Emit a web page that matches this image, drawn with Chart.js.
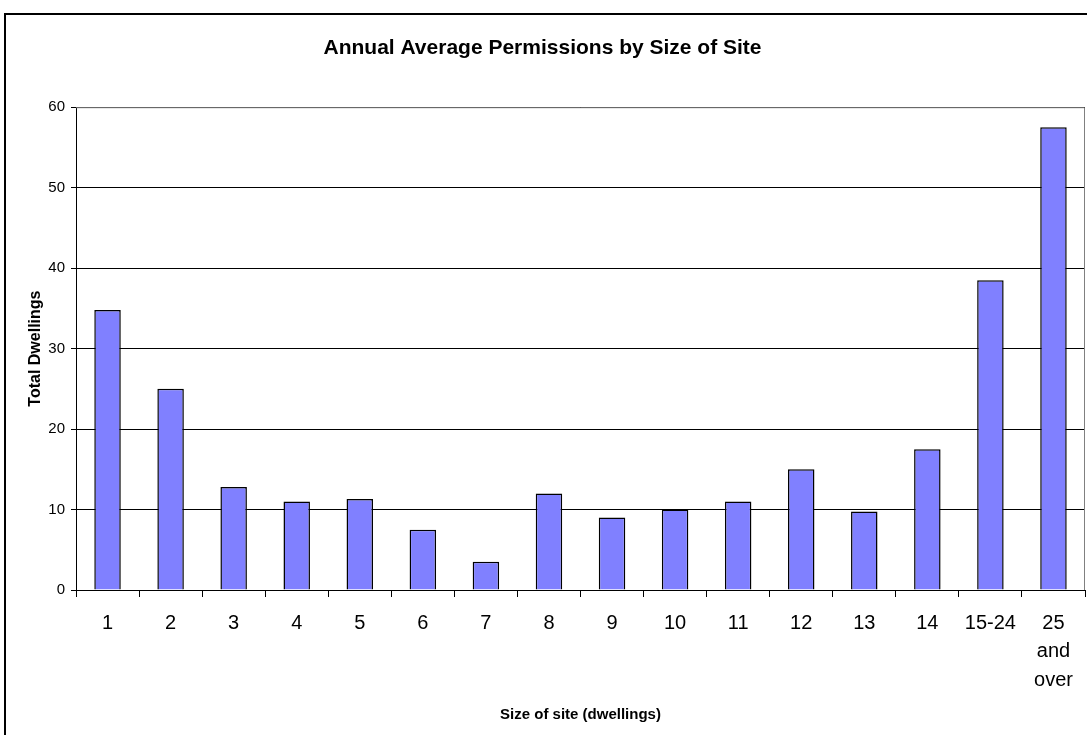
<!DOCTYPE html>
<html>
<head>
<meta charset="utf-8">
<title>Annual Average Permissions by Size of Site</title>
<script src="https://cdn.jsdelivr.net/npm/chart.js@4/dist/chart.umd.min.js"></script>
<style>
  html, body { margin: 0; padding: 0; background: #fff; }
  #wrap { width: 1087px; height: 735px; position: relative; }
</style>
</head>
<body>
<div id="wrap"><canvas id="permChart" width="1087" height="735"></canvas></div>
<script>
// Kategorier (størrelse af grund) og værdier
const siteSizes = ['1', '2', '3', '4', '5', '6', '7', '8', '9', '10', '11', '12', '13', '14', '15-24', ['25', 'and', 'over']];
const totalDwellings = [34.8, 25, 12.8, 11, 11.3, 7.5, 3.5, 12, 9, 10, 11, 15, 9.75, 17.5, 38.5, 57.5];
const yTicks = [0, 10, 20, 30, 40, 50, 60];

const chartTitle = 'Annual Average Permissions by Size of Site';
const xTitle = 'Size of site (dwellings)';
const yTitle = 'Total Dwellings';

const FONT = 'Arial, "Liberation Sans", sans-serif';

// Ramme om hele diagrammet og grå kant om plotområdet
const framePlugin = {
  id: 'frame',
  afterDraw(chart) {
    const { ctx, chartArea: a } = chart;
    ctx.save();
    ctx.strokeStyle = '#808080';
    ctx.lineWidth = 1;
    ctx.beginPath();
    ctx.moveTo(a.left, a.top + 0.5);
    ctx.lineTo(a.right - 0.5, a.top + 0.5);
    ctx.lineTo(a.right - 0.5, a.bottom);
    ctx.stroke();
    ctx.strokeStyle = '#000';
    ctx.lineWidth = 2;
    ctx.strokeRect(5, 14, 1200, 900);
    ctx.restore();
  }
};

const ctx = document.getElementById('permChart').getContext('2d');
new Chart(ctx, {
  type: 'bar',
  data: {
    labels: siteSizes,
    datasets: [{
      data: totalDwellings,
      backgroundColor: '#8080FF',
      borderColor: '#000',
      borderWidth: 1.5,
      categoryPercentage: 1,
      barPercentage: 0.42
    }]
  },
  options: {
    responsive: false,
    animation: false,
    layout: { padding: { top: 0, right: 2, bottom: 0, left: 0 } },
    plugins: {
      legend: { display: false },
      tooltip: { enabled: false },
      title: {
        display: true,
        text: chartTitle,
        color: '#000',
        font: { family: FONT, size: 21, weight: 'bold' },
        padding: { top: 36, bottom: 46 }
      }
    },
    scales: {
      x: {
        grid: { drawOnChartArea: false, drawTicks: true, tickLength: 7, color: '#000', offset: true },
        border: { color: '#000' },
        ticks: { color: '#000', font: { family: FONT, size: 20, lineHeight: 1.43 }, padding: 12, maxRotation: 0, autoSkip: false },
        title: {
          display: true,
          text: xTitle,
          color: '#000',
          font: { family: FONT, size: 15, weight: 'bold' },
          padding: { top: 0, bottom: 11 }
        },
        afterFit(scale) { scale.height = 145; }
      },
      y: {
        min: 0,
        max: 60,
        afterBuildTicks(scale) { scale.ticks = yTicks.map(v => ({ value: v })); },
        grid: { color: '#000', tickLength: 5 },
        border: { color: '#000' },
        ticks: { color: '#000', font: { family: FONT, size: 15 }, padding: 6 },
        title: {
          display: true,
          text: yTitle,
          color: '#000',
          font: { family: FONT, size: 16, weight: 'bold' },
          padding: { top: 26, bottom: 0 }
        },
        afterFit(scale) { scale.width = 76; }
      }
    }
  },
  plugins: [framePlugin]
});
</script>
</body>
</html>
